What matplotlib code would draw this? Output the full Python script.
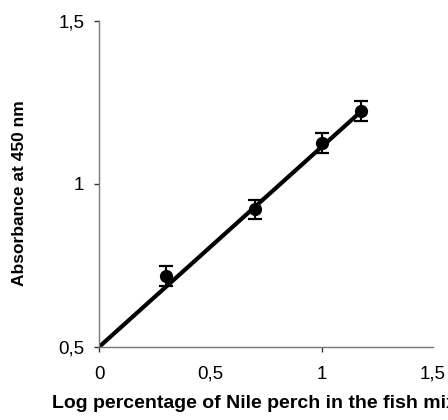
import numpy as np
import matplotlib
matplotlib.use("Agg")
import matplotlib.pyplot as plt

plt.rcParams['font.family'] = ['Liberation Sans', 'DejaVu Sans']

# Log percentage of Nile perch (log10 of 2, 5, 10, 15 %)
log_pct = [0.301, 0.699, 1.0, 1.176]
absorbance = [0.719, 0.922, 1.125, 1.224]
abs_err = [0.031, 0.029, 0.030, 0.031]

# linear trendline drawn across the data range
trend_x = [0.0, 1.176]
trend_y = [0.5, 1.222]

x_ticks = [0, 0.5, 1, 1.5]
x_tick_labels = ['0', '0,5', '1', '1,5']
y_ticks = [0.5, 1, 1.5]
y_tick_labels = ['0,5', '1', '1,5']

fig = plt.figure(figsize=(4.48, 4.2), dpi=100)
ax = fig.add_axes([99 / 448, 1 - 347 / 420, (433 - 99) / 448, (347 - 21) / 420])

ax.plot(trend_x, trend_y, color='black', lw=3, solid_capstyle='butt', zorder=2)
ax.errorbar(log_pct, absorbance, yerr=abs_err, fmt='o', color='black',
            markersize=8.5, elinewidth=1.5, capsize=4.7, capthick=1.6, zorder=3)

ax.set_xlim(0, 1.5)
ax.set_ylim(0.5, 1.5)
ax.set_xticks(x_ticks)
ax.set_xticklabels(x_tick_labels)
ax.set_yticks(y_ticks)
ax.set_yticklabels(y_tick_labels)

# only some x ticks have visible marks in the original
for t, val in zip(ax.xaxis.get_major_ticks(), x_ticks):
    if val not in (0, 1):
        t.tick1line.set_visible(False)

ax.tick_params(axis='both', labelsize=13.5, length=3.5, width=1, color='#333333')
ax.tick_params(axis='x', pad=10)
ax.tick_params(axis='y', pad=7)

for side in ['top', 'right']:
    ax.spines[side].set_visible(False)
for side in ['left', 'bottom']:
    ax.spines[side].set_color('#777777')
    ax.spines[side].set_linewidth(1)

fig.text(19 / 448, 1 - 193 / 420, 'Absorbance at 450 nm', rotation=90,
         ha='center', va='center', fontsize=12.5, fontweight='bold')
fig.text(52 / 448, 1 - 404 / 420, 'Log percentage of Nile perch in the fish mix',
         ha='left', va='center', fontsize=14, fontweight='bold')

fig.savefig('out.png', dpi=100)
